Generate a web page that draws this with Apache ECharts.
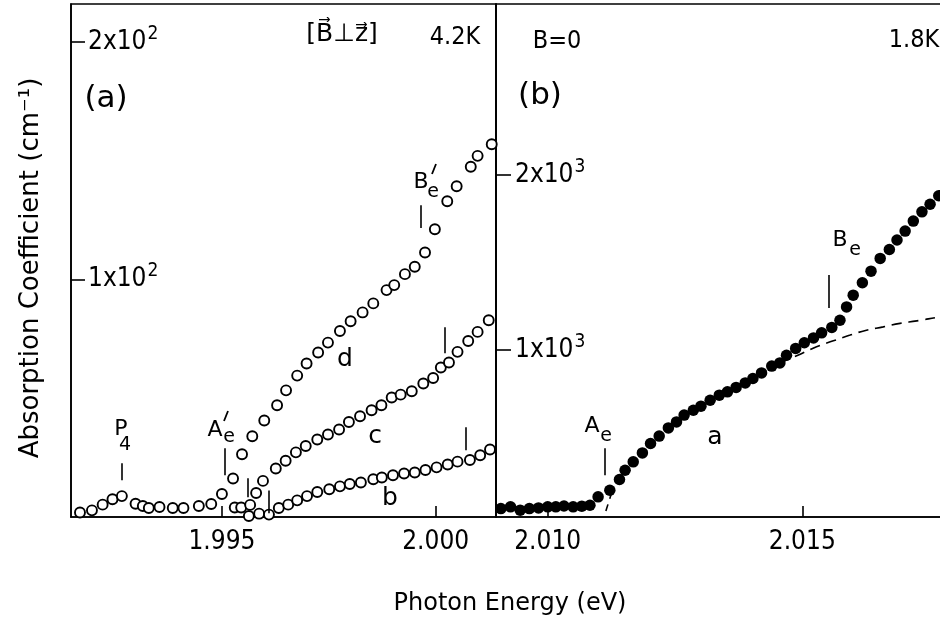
<!DOCTYPE html>
<html><head><meta charset="utf-8">
<script src="https://cdn.jsdelivr.net/npm/echarts@6/dist/echarts.min.js"></script>
<style>html,body{margin:0;padding:0;background:#fff}#c{width:940px;height:621px}</style>
</head><body><div id="c"></div>
<script>
const FONT = "'DejaVu Sans',sans-serif";
const FONTC = "'DejaVu Sans Condensed','DejaVu Sans',sans-serif";

// ---------- Panel (a): B perpendicular z, 4.2 K (absorption in cm^-1) ----------
const commonE = [1.99168,1.99196,1.99221,1.99244,1.99266,1.99298,1.99315,1.99329,1.99354,1.99385,1.99410,1.99446,1.99475];
const commonA = [1.9,2.8,5.2,7.5,8.8,5.6,4.6,3.8,4.2,3.8,3.8,4.6,5.5];
const dE = [1.99500,1.99526,1.99547,1.99571,1.99599,1.99629,1.99650,1.99676,1.99698,1.99725,1.99748,1.99776,1.99801,1.99829,1.99854,1.99885,1.99903,1.99928,1.99951,1.99975,1.99998,2.00027,2.00049,2.00082,2.00098,2.00131];
const dA = [9.7,16.2,26.4,34.0,40.6,47.0,53.3,59.5,64.6,69.2,73.4,78.3,82.4,86.1,89.9,95.5,97.6,102.2,105.3,111.3,121.1,132.9,139.2,147.4,152.0,156.9];
const cE = [1.99530,1.99545,1.99566,1.99580,1.99596,1.99626,1.99649,1.99673,1.99696,1.99723,1.99748,1.99774,1.99797,1.99823,1.99850,1.99873,1.99897,1.99918,1.99944,1.99971,1.99994,2.00012,2.00031,2.00051,2.00076,2.00098,2.00124];
const cA = [4.0,4.0,5.1,10.1,15.2,20.4,23.7,27.2,29.9,32.6,34.7,36.8,40.0,42.4,44.9,47.0,50.3,51.5,52.9,56.2,58.5,62.9,65.0,69.5,74.1,77.9,82.8];
const bE = [1.99563,1.99587,1.99610,1.99633,1.99655,1.99676,1.99699,1.99723,1.99751,1.99776,1.99799,1.99825,1.99854,1.99874,1.99900,1.99926,1.99951,1.99976,2.00002,2.00028,2.00051,2.00080,2.00104,2.00127];
const bA = [0.4,1.4,1.0,3.8,5.2,7.0,8.8,10.5,11.7,12.9,13.9,14.5,15.9,16.6,17.6,18.3,18.7,19.8,20.9,22.1,23.3,24.0,26.0,28.4];
// marker ticks (energy, from, to)
const ticksA = [[1.99265,15.5,22.6],[1.99506,17.6,28.9],[1.99561,8.3,16.3],[1.99610,1.6,11.2],[1.99965,121.6,131.2],[2.00022,68.9,79.9],[2.00071,28.1,37.8]];

// ---------- Panel (b): B = 0, 1.8 K ----------
const aE = [2.00908,2.00927,2.00946,2.00964,2.00982,2.01000,2.01016,2.01032,2.01050,2.01067,2.01083,2.01099,2.01122,2.01141,2.01152,2.01168,2.01186,2.01202,2.01219,2.01237,2.01253,2.01268,2.01286,2.01301,2.01319,2.01337,2.01353,2.01370,2.01388,2.01403,2.01420,2.01440,2.01456,2.01469,2.01487,2.01504,2.01522,2.01538,2.01558,2.01574,2.01587,2.01600,2.01618,2.01635,2.01653,2.01671,2.01686,2.01702,2.01718,2.01735,2.01751,2.01768];
const aA = [95,105,86,95,99,105,105,110,105,109,114,162,200,261,314,362,413,467,509,556,590,629,657,680,714,743,762,787,813,838,870,909,927,971,1010,1042,1070,1099,1130,1171,1247,1314,1385,1451,1524,1575,1629,1680,1737,1790,1833,1882];
const dashE = [2.01455,2.01496,2.01528,2.01561,2.01594,2.01626,2.01659,2.01692,2.01725,2.01770,2.01790];
const dashA = [925,977,1019,1053,1086,1114,1133,1153,1167,1190,1198];
const dash2E = [2.01126,2.01112];
const dash2A = [190,60];
const ticksB = [[2.01113,286,440],[2.01551,1240,1429]];

// ---------- axis ticks ----------
const xTicksA = [1.995, 2.000];
const xTicksB = [2.010, 2.015];
const yTicksA = [100, 200];
const yTicksB = [1000, 2000];

const zip = (x, y) => x.map((v, i) => [v, y[i]]);
const tickLines = ticks => ticks.map(t => [{coord:[t[0], t[1]]}, {coord:[t[0], t[2]]}]);

const hollow = {color:'#fff', borderColor:'#000', borderWidth:1.9, opacity:1};
function openSeries(name, data){
  return {name, type:'scatter', xAxisIndex:0, yAxisIndex:0, data, symbol:'circle', symbolSize:10,
    itemStyle:hollow, clip:false, silent:true, z:3};
}
const axisBase = {
  axisLine:{show:true, onZero:false, lineStyle:{color:'#000', width:1.6}},
  splitLine:{show:false}
};
function xAxis(idx, min, max, ticks){
  return Object.assign({}, axisBase, {type:'value', gridIndex:idx, min, max,
    axisTick:{show:true, inside:true, length:11, customValues:ticks, lineStyle:{color:'#000', width:1.6}},
    axisLabel:{show:true, customValues:ticks, margin:12, color:'#000', fontSize:26, fontFamily:FONTC,
      formatter:v => v.toFixed(3)}});
}
function yAxis(idx, min, max, ticks, exp, unit, margin, tlen){
  return Object.assign({}, axisBase, {type:'value', gridIndex:idx, min, max,
    axisTick:{show:true, inside:true, length:tlen, customValues:ticks, lineStyle:{color:'#000', width:1.6}},
    axisLabel:{show:true, inside:true, customValues:ticks, margin, color:'#000',
      formatter:v => '{n|' + Math.round(v/unit) + 'x10}{s|' + exp + '}',
      rich:{n:{fontSize:26, fontFamily:FONTC, color:'#000'}, s:{fontSize:19, fontFamily:FONTC, color:'#000', padding:[0,0,16,1]}}}});
}

const chart = echarts.init(document.getElementById('c'), null, {renderer:'canvas'});

function txt(text, x, y, size, extra, fam){
  return Object.assign({type:'text', x, y, silent:true, z:10,
    style:{text, fontSize:size, fontFamily:fam||FONT, fill:'#000', align:'center', verticalAlign:'middle',
      textAlign:'center', textVerticalAlign:'middle'}}, extra||{});
}
function stroke(x1, y1, x2, y2){
  return {type:'line', silent:true, z:10, shape:{x1, y1, x2, y2}, style:{stroke:'#000', lineWidth:1.8}};
}

chart.setOption({
  animation:false,
  backgroundColor:'#fff',
  grid:[
    {left:71, top:4, width:425, height:513, show:true, borderColor:'#000', borderWidth:1.6, backgroundColor:'transparent', outerBoundsMode:'none', containLabel:false},
    {left:496, top:4, width:460, height:513, show:true, borderColor:'#000', borderWidth:1.6, backgroundColor:'transparent', outerBoundsMode:'none', containLabel:false}
  ],
  xAxis:[ xAxis(0, 1.99147, 2.00141, xTicksA), xAxis(1, 2.008985, 2.008985 + 460/50920, xTicksB) ],
  yAxis:[ yAxis(0, 0, 215.9, yTicksA, '2', 100, 17, 14), yAxis(1, 47, 2977, yTicksB, '3', 1000, 19, 15) ],
  series:[
    openSeries('common', zip(commonE, commonA)),
    openSeries('d', zip(dE, dA)),
    openSeries('c', zip(cE, cA)),
    openSeries('b', zip(bE, bA)),
    {name:'ticksA', type:'scatter', xAxisIndex:0, yAxisIndex:0, data:[], silent:true,
      markLine:{silent:true, symbol:['none','none'], label:{show:false}, animation:false,
        lineStyle:{color:'#000', width:1.6, type:'solid', opacity:1}, data:tickLines(ticksA)}},
    {name:'a', type:'scatter', xAxisIndex:1, yAxisIndex:1, data:zip(aE, aA), symbol:'circle', symbolSize:11.5,
      itemStyle:{color:'#000', opacity:1}, clip:false, silent:true, z:3},
    {name:'extrap', type:'line', xAxisIndex:1, yAxisIndex:1, data:zip(dashE, dashA), symbol:'none', smooth:true,
      lineStyle:{color:'#000', width:1.6, type:[10,7], opacity:1}, silent:true, z:2},
    {name:'extrap2', type:'line', xAxisIndex:1, yAxisIndex:1, data:zip(dash2E, dash2A), symbol:'none',
      lineStyle:{color:'#000', width:1.6, type:[7,6], opacity:1}, silent:true, z:2},
    {name:'ticksB', type:'scatter', xAxisIndex:1, yAxisIndex:1, data:[], silent:true,
      markLine:{silent:true, symbol:['none','none'], label:{show:false}, animation:false,
        lineStyle:{color:'#000', width:1.6, type:'solid', opacity:1}, data:tickLines(ticksB)}}
  ],
  graphic:[
    txt('Photon Energy (eV)', 510, 604, 24),
    txt('Absorption Coefficient (cm\u207B\u00B9)', 31, 268, 26, {rotation:Math.PI/2}),
    txt('[B\u20D7\u22A5z\u20D7]', 342, 34, 25),
    txt('4.2K', 455, 37, 25, null, FONTC),
    txt('(a)', 106, 99, 31),
    txt('B=0', 557, 41, 25, null, FONTC),
    txt('1.8K', 914, 40, 25, null, FONTC),
    txt('(b)', 540, 96, 31),
    txt('P', 121, 429, 22), txt('4', 125, 445, 19),
    txt('A', 215, 430, 22), txt('e', 229, 437, 19), stroke(224, 421, 228, 411),
    txt('B', 421, 182, 22), txt('e', 433, 192, 19), stroke(432, 174, 436, 164),
    txt('d', 345, 359, 25), txt('c', 375, 436, 25), txt('b', 390, 498, 25),
    txt('A', 592, 426, 22), txt('e', 606, 436, 19),
    txt('a', 715, 437, 25),
    txt('B', 840, 240, 22), txt('e', 855, 250, 19)
  ]
});
</script></body></html>
